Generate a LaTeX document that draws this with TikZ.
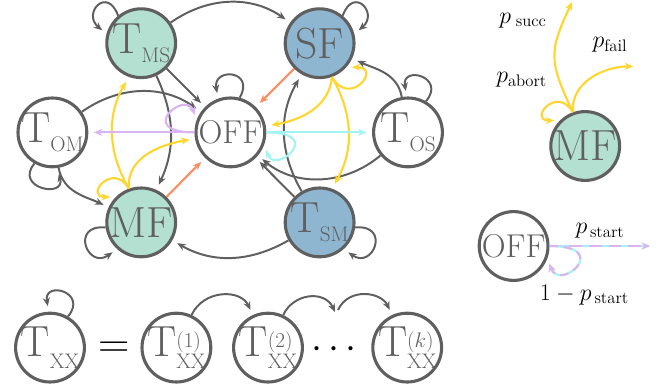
\RequirePackage{fix-cm}
\documentclass[tikz,border=0pt]{standalone}
\usepackage{fontspec}
\usepackage{xcolor}
\usepackage{tikz}
\usetikzlibrary{positioning,arrows.meta}

\definecolor{stgray}{HTML}{5F5F5F}
\definecolor{mfgreen}{HTML}{B3E0D0}
\definecolor{sfblue}{HTML}{8FB6D0}
\definecolor{failorange}{HTML}{FC8D62}
\definecolor{moveyellow}{HTML}{FFD52E}
\definecolor{startlilac}{HTML}{D9B3F2}
\definecolor{startcyan}{HTML}{A3F3F3}

\newcommand{\statefont}{\fontsize{31}{31}\selectfont}
\newcommand{\offfont}{\fontsize{23.5}{23.5}\selectfont}
\newcommand{\idxfont}{\fontsize{15}{15}\selectfont}
\newcommand{\probfont}{\fontsize{17}{20}\selectfont}
\newcommand{\Tsub}[1]{T\raisebox{-6pt}{\idxfont #1}}
\newcommand{\Txx}{T\raisebox{-8pt}{\idxfont XX}}
\newcommand{\Tstage}[1]{T\rlap{\raisebox{6.5pt}{\idxfont (#1)}}\raisebox{-8pt}{\idxfont XX}}

\begin{document}
\begin{tikzpicture}[>={Stealth[length=6pt,width=5pt]},
  state/.style={circle, draw=stgray, line width=2.2pt, minimum size=1.72cm, inner sep=-14pt, text=stgray, font=\statefont},
  mfstate/.style={state, fill=mfgreen},
  sfstate/.style={state, fill=sfblue},
  offstate/.style={state, font=\offfont},
  gedge/.style={->, stgray, line width=1.4pt, shorten >=4pt},
  yedge/.style={->, moveyellow, line width=1.5pt, shorten >=4pt},
  oedge/.style={->, failorange, line width=1.5pt, shorten >=4pt},
  pedge/.style={->, startlilac, line width=1.5pt, shorten >=4pt},
  cedge/.style={->, startcyan, line width=1.5pt, shorten >=4pt},
  prob/.style={font=\probfont, inner sep=1pt}]
\useasboundingbox (0,0) rectangle (16.525,9.75);

% states of the chain
\node[mfstate] (tms) at (3.53,8.67) {\Tsub{MS}};
\node[sfstate] (sf) at (7.99,8.67) {SF};
\node[offstate] (off) at (5.76,6.44) {OFF};
\node[state] (tom) at (1.31,6.44) {\Tsub{OM}};
\node[state] (tos) at (10.2,6.44) {\Tsub{OS}};
\node[mfstate] (mf) at (3.53,4.19) {MF};
\node[sfstate] (tsm) at (7.99,4.19) {\Tsub{SM}};

% legend
\node[mfstate] (lmf) at (14.63,6.1) {MF};
\node[offstate] (loff) at (12.84,3.6) {OFF};
\coordinate (succ) at (14.3,9.7);
\coordinate (fail) at (15.83,8.09);
\coordinate (startend) at (16.25,3.6);
\node[prob] (lsucc) at (13.075,9.24) {$p_{\;\mathrm{succ}}$};
\node[prob] (lfail) at (15.25,8.625) {$p_{\mathrm{fail}}$};
\node[prob] (labort) at (13.04,7.76) {$p_{\mathrm{abort}}$};
\node[prob] (lstart) at (15.0,3.975) {$p_{\,\mathrm{start}}$};
\node[prob] (lstay) at (14.61,2.375) {$1-p_{\,\mathrm{start}}$};

% expanded transit state
\node[state] (txx) at (1.25,1.06) {\Txx};
\node (eq) at (2.85,1.0) {\fontsize{31}{31}\selectfont =};
\node[state] (t1) at (4.41,1.06) {\Tstage{1}};
\node[state] (t2) at (6.7,1.06) {\Tstage{2}};
\node (dots) at (8.35,1.0) {\fontsize{28}{28}\selectfont$\cdots$};
\node[state] (tk) at (10.18,1.06) {\Tstage{$k$}};
\coordinate (dotsin) at (8.375,1.95);
\coordinate (dotsout) at (8.45,2.0);

% self loops
\draw[gedge] (tms.130) to[out=110,in=140,distance=8mm] (tms.165);
\draw[gedge] (sf.50) to[out=70,in=40,distance=8mm] (sf.15);
\draw[gedge] (off.75) to[out=60,in=100,distance=8mm] (off.110);
\draw[gedge] (tos.60) to[out=50,in=100,distance=8mm] (tos.92);
\draw[gedge] (tom.240) to[out=230,in=285,distance=8mm] (tom.278);
\draw[gedge] (mf.188) to[out=175,in=215,distance=9mm] (mf.228);
\draw[gedge] (tsm.-8) to[out=5,in=-35,distance=9mm] (tsm.-48);
\draw[gedge] (txx.60) to[out=50,in=100,distance=8mm] (txx.92);

% transitions
\draw[gedge] (tms) to[bend left=35] (sf);
\draw[gedge] (tms) -- (off);
\draw[gedge] (tms) to[bend left=25] (mf);
\draw[gedge] (tom) to[out=35,in=145] (off);
\draw[gedge] (tom) to[out=-80,in=155] (mf);
\draw[gedge] (tos) to[out=100,in=-25] (sf);
\draw[gedge] (tos) to[out=220,in=-40] (off);
\draw[gedge] (tsm) to[bend left=30] (sf);
\draw[gedge] (tsm) -- (off);
\draw[gedge] (tsm) to[bend left=30] (mf);

\draw[oedge] (sf) -- (off);
\draw[oedge] (mf) -- (off);

\draw[yedge] (mf.110) to[out=120,in=240] (tms.250);
\draw[yedge] (mf.110) to[out=95,in=190] (off);
\draw[yedge] (mf.110) to[out=120,in=180,distance=8mm] (mf.135);
\draw[yedge] (sf.290) to[out=265,in=10] (off);
\draw[yedge] (sf.290) to[out=-60,in=60] (tsm.70);
\draw[yedge] (sf.290) to[out=300,in=0,distance=9mm] (sf.318);

\draw[pedge] (off) -- (tom);
\draw[pedge] (off.180) to[out=180,in=110,out distance=15mm,in distance=8mm] (off.160);
\draw[cedge] (off) -- (tos);
\draw[cedge] (off.0) to[out=0,in=-70,out distance=15mm,in distance=8mm] (off.-20);

% legend arrows
\draw[yedge, shorten >=0pt] (lmf.110) to[out=115,in=-115,looseness=1.3] (succ);
\draw[yedge, shorten >=0pt] (lmf.110) to[out=95,in=180] (fail);
\draw[yedge] (lmf.110) to[out=120,in=180,distance=8mm] (lmf.135);
\draw[cedge, shorten >=0pt] (loff) -- (startend);
\draw[pedge, shorten >=0pt, dash pattern=on 9pt off 5pt] (loff) -- (startend);
\draw[cedge] (loff.0) to[out=0,in=-70,out distance=16mm,in distance=9mm] (loff.-20);
\draw[pedge, dash pattern=on 6pt off 4pt] (loff.0) to[out=0,in=-70,out distance=16mm,in distance=9mm] (loff.-20);

% stages
\draw[gedge] (t1) to[out=65,in=115,looseness=1.2] (t2);
\draw[gedge, shorten >=0pt] (t2) to[out=65,in=115,looseness=1.2] (dotsin);
\draw[gedge] (dotsout) to[out=65,in=115,looseness=1.2] (tk);
\end{tikzpicture}
\end{document}
